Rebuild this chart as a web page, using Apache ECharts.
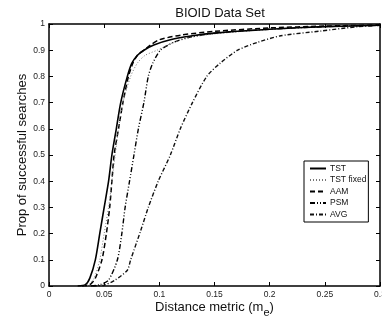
<!DOCTYPE html>
<html>
<head>
<meta charset="utf-8">
<script src="https://cdn.jsdelivr.net/npm/echarts@6/dist/echarts.min.js"></script>
<style>html,body{margin:0;padding:0;background:#fff}#c{width:382px;height:320px}</style>
</head>
<body>
<div id="c"></div>
<script>
var seriesNames = ['TST', 'TST fixed', 'AAM', 'PSM', 'AVG'];
var xTicks = [0, 0.05, 0.1, 0.15, 0.2, 0.25, 0.3];
var yTicks = [0, 0.1, 0.2, 0.3, 0.4, 0.5, 0.6, 0.7, 0.8, 0.9, 1];

var tstX = [0.026,0.033,0.037,0.042,0.046,0.050,0.054,0.057,0.061,0.065,0.071,0.075,0.080,0.086,0.095,0.110,0.130,0.150,0.200,0.250,0.300];
var tstY = [0,0.005,0.03,0.1,0.2,0.3,0.4,0.5,0.6,0.7,0.8,0.85,0.88,0.9,0.92,0.94,0.955,0.965,0.98,0.99,0.995];

var tstFixedX = [0.029,0.036,0.041,0.046,0.050,0.054,0.057,0.060,0.063,0.067,0.074,0.080,0.087,0.098,0.113,0.130,0.150,0.200,0.250,0.300];
var tstFixedY = [0,0.005,0.03,0.1,0.2,0.3,0.4,0.5,0.6,0.7,0.8,0.85,0.88,0.9,0.93,0.95,0.962,0.98,0.99,0.995];

var aamX = [0.030,0.037,0.042,0.048,0.052,0.055,0.057,0.059,0.063,0.067,0.072,0.076,0.080,0.086,0.092,0.100,0.120,0.150,0.200,0.250,0.300];
var aamY = [0,0.005,0.03,0.1,0.2,0.3,0.4,0.5,0.6,0.7,0.8,0.85,0.88,0.9,0.92,0.94,0.958,0.972,0.985,0.992,0.996];

var psmX = [0.038,0.046,0.054,0.062,0.066,0.069,0.073,0.077,0.081,0.086,0.090,0.094,0.101,0.113,0.128,0.150,0.200,0.250,0.300];
var psmY = [0,0.005,0.023,0.1,0.2,0.3,0.4,0.5,0.6,0.7,0.8,0.85,0.9,0.93,0.95,0.965,0.98,0.99,0.995];

var avgX = [0.040,0.050,0.060,0.071,0.074,0.083,0.090,0.099,0.110,0.119,0.130,0.143,0.155,0.171,0.189,0.210,0.246,0.280,0.300];
var avgY = [0,0.003,0.023,0.06,0.1,0.21,0.3,0.4,0.5,0.6,0.7,0.8,0.85,0.9,0.93,0.955,0.973,0.99,0.995];

function pairs(xs, ys) { return xs.map(function (x, i) { return [x, ys[i]]; }); }

var styles = [
  { color: '#000', width: 1.6, type: 'solid' },
  { color: '#777', width: 1, type: [1, 2] },
  { color: '#000', width: 1.5, type: [5, 3] },
  { color: '#000', width: 1.4, type: [5, 2, 1, 2, 1, 2] },
  { color: '#111', width: 1.4, type: [4, 2, 1, 2] }
];
var datas = [pairs(tstX, tstY), pairs(tstFixedX, tstFixedY), pairs(aamX, aamY), pairs(psmX, psmY), pairs(avgX, avgY)];

var chart = echarts.init(document.getElementById('c'), null, { renderer: 'canvas' });
var ff = 'Liberation Sans, Arial, sans-serif';
chart.setOption({
  animation: false,
  backgroundColor: '#fff',
  title: {
    text: 'BIOID Data Set', left: 215, top: 2, textAlign: 'center',
    textStyle: { fontSize: 13, fontWeight: 'normal', color: '#111', fontFamily: ff }
  },
  grid: { left: 49, right: 2, top: 24, bottom: 34, containLabel: false, outerBoundsMode: 'none' },
  legend: {
    orient: 'vertical', left: 304, top: 161,
    backgroundColor: '#fff', borderColor: '#000', borderWidth: 1,
    padding: [3, 2, 3, 5], itemGap: 2.5, itemWidth: 16, itemHeight: 8,
    itemStyle: { opacity: 0 },
    textStyle: { fontSize: 8.5, color: '#111', fontFamily: ff, padding: [0, 0, 0, -1] },
    data: seriesNames
  },
  xAxis: [{
    type: 'value', min: xTicks[0], max: xTicks[xTicks.length - 1], interval: 0.05,
    name: 'Distance metric (m{s|e})', nameLocation: 'middle', nameGap: 11, nameMoveOverlap: false,
    nameTextStyle: { fontSize: 13, color: '#111', fontFamily: ff, verticalAlign: 'top',
      rich: { s: { fontSize: 11, color: '#111', padding: [10, 0, 0, 0], fontFamily: ff } } },
    axisLine: { lineStyle: { color: '#000', width: 1.5 } },
    axisTick: { inside: true, length: 4, lineStyle: { color: '#000' } },
    axisLabel: { fontSize: 8.5, color: '#222', margin: 4, showMaxLabel: true, fontFamily: ff,
      formatter: function (v) { return String(+v.toFixed(2)); } },
    splitLine: { show: false }
  }, {
    type: 'value', position: 'top', min: xTicks[0], max: xTicks[xTicks.length - 1], interval: 0.05,
    axisLine: { onZero: false, lineStyle: { color: '#000', width: 1.5 } },
    axisTick: { inside: true, length: 4, lineStyle: { color: '#000' } },
    axisLabel: { show: false }, splitLine: { show: false }
  }],
  yAxis: [{
    type: 'value', min: yTicks[0], max: yTicks[yTicks.length - 1], interval: 0.1,
    name: 'Prop of successful searches', nameLocation: 'middle', nameGap: 20, nameMoveOverlap: false,
    nameTextStyle: { fontSize: 13, color: '#111', fontFamily: ff },
    axisLine: { lineStyle: { color: '#000', width: 1.5 } },
    axisTick: { inside: true, length: 4, lineStyle: { color: '#000' } },
    axisLabel: { fontSize: 8.5, color: '#222', margin: 4, fontFamily: ff,
      formatter: function (v) { return String(+v.toFixed(1)); } },
    splitLine: { show: false }
  }, {
    type: 'value', position: 'right', min: yTicks[0], max: yTicks[yTicks.length - 1], interval: 0.1,
    axisLine: { show: true, onZero: false, lineStyle: { color: '#000', width: 1.5 } },
    axisTick: { show: true, inside: true, length: 4, lineStyle: { color: '#000' } },
    axisLabel: { show: false }, splitLine: { show: false }
  }],
  series: seriesNames.map(function (n, i) {
    return {
      name: n, type: 'line', data: datas[i], xAxisIndex: 0, yAxisIndex: 0,
      symbol: 'none', smooth: 0.25, clip: true,
      lineStyle: { color: styles[i].color, width: styles[i].width, type: styles[i].type },
      itemStyle: { color: styles[i].color },
      z: 5 - i
    };
  })
});
</script>
</body>
</html>
